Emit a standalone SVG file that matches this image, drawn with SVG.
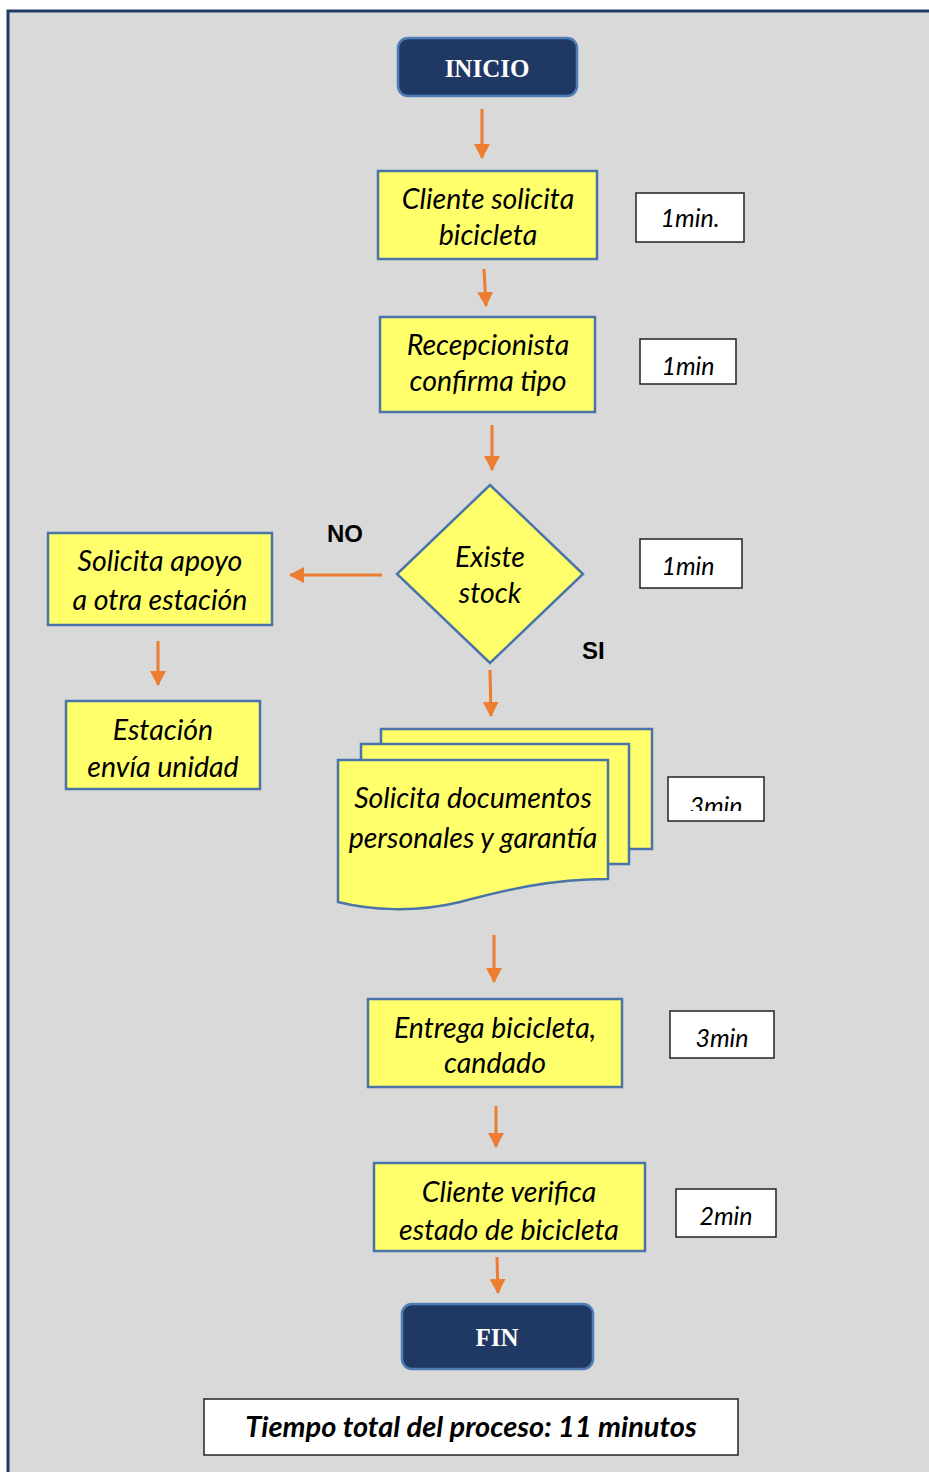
<svg xmlns="http://www.w3.org/2000/svg" width="929" height="1472" viewBox="0 0 929 1472">
<style>
.frame{fill:#d9d9d9;stroke:#1f3864;stroke-width:3}
.term{fill:#1f3864;stroke:#4f7db5;stroke-width:2.5}
.termt{font-family:"Liberation Serif",serif;font-weight:bold;font-size:25px;fill:#fff;text-anchor:middle}
.proc{fill:#ffff6b;stroke:#4a74a8;stroke-width:2.5}
.pt{font-family:Lato,"Open Sans",sans-serif;font-style:italic;font-size:28.5px;fill:#000;text-anchor:middle}
.time{fill:#fff;stroke:#222;stroke-width:1.5}
.tt{font-family:Lato,"Open Sans",sans-serif;font-style:italic;font-size:25px;fill:#000;text-anchor:middle}
.tot{font-family:Lato,"Open Sans",sans-serif;font-style:italic;font-weight:bold;font-size:29px;fill:#000;text-anchor:middle}
.lab{font-family:"Liberation Sans",Arial,sans-serif;font-weight:bold;font-size:24px;fill:#000}
.conn line{stroke:#ed7d31;stroke-width:3;marker-end:url(#ah)}
</style>
<defs>
<marker id="ah" markerUnits="userSpaceOnUse" markerWidth="18" markerHeight="16" refX="14" refY="8" orient="auto">
<path d="M0,0 L15,8 L0,16 Z" fill="#ed7d31"/>
</marker>
<clipPath id="clip3"><rect x="668" y="777" width="97" height="34"/></clipPath>
</defs>
<rect class="frame" x="8" y="11" width="940" height="1480"/>

<g id="inicio"><rect class="term" x="398" y="38" width="179" height="58" rx="10"/><text class="termt" x="487" y="77">INICIO</text></g>

<g id="cliente-solicita"><rect class="proc" x="378" y="171" width="219" height="88"/><text class="pt" x="488" y="209">Cliente solicita</text><text class="pt" x="488" y="245">bicicleta</text></g>
<g id="t1"><rect class="time" x="636" y="193" width="108" height="49"/><text class="tt" x="690" y="227">1min.</text></g>

<g id="recepcionista"><rect class="proc" x="380" y="317" width="215" height="95"/><text class="pt" x="488" y="355">Recepcionista</text><text class="pt" x="488" y="391">confirma tipo</text></g>
<g id="t2"><rect class="time" x="640" y="339" width="96" height="45"/><text class="tt" x="688" y="375">1min</text></g>

<g id="existe-stock"><polygon class="proc" points="490,485 583,574 490,663 397,574"/><text class="pt" x="490" y="567">Existe</text><text class="pt" x="490" y="603">stock</text></g>
<g id="t3"><rect class="time" x="640" y="539" width="102" height="49"/><text class="tt" x="688" y="575">1min</text></g>

<g id="solicita-apoyo"><rect class="proc" x="48" y="533" width="224" height="92"/><text class="pt" x="160" y="571">Solicita apoyo</text><text class="pt" x="160" y="610">a otra estación</text></g>
<g id="estacion-envia"><rect class="proc" x="66" y="701" width="194" height="88"/><text class="pt" x="163" y="740">Estación</text><text class="pt" x="163" y="777">envía unidad</text></g>

<g id="solicita-documentos">
<rect class="proc" x="381" y="729" width="271" height="120"/>
<rect class="proc" x="361" y="744" width="268" height="120"/>
<path class="proc" d="M338,760 H608 V879 C550,879 505,890 460,902 C415,913 370,910 338,902 Z"/>
<text class="pt" x="473" y="808">Solicita documentos</text><text class="pt" x="473" y="848">personales y garantía</text>
</g>
<g id="t4"><rect class="time" x="668" y="777" width="96" height="44"/><text class="tt" x="716" y="815" clip-path="url(#clip3)">3min</text></g>

<g id="entrega"><rect class="proc" x="368" y="999" width="254" height="88"/><text class="pt" x="495" y="1038">Entrega bicicleta,</text><text class="pt" x="495" y="1073">candado</text></g>
<g id="t5"><rect class="time" x="670" y="1011" width="104" height="47"/><text class="tt" x="722" y="1047">3min</text></g>

<g id="cliente-verifica"><rect class="proc" x="374" y="1163" width="271" height="88"/><text class="pt" x="509" y="1202">Cliente verifica</text><text class="pt" x="509" y="1240">estado de bicicleta</text></g>
<g id="t6"><rect class="time" x="676" y="1189" width="100" height="48"/><text class="tt" x="726" y="1225">2min</text></g>

<g id="fin"><rect class="term" x="402" y="1304" width="191" height="65" rx="10"/><text class="termt" x="497" y="1346">FIN</text></g>

<g id="total"><rect class="time" x="204" y="1399" width="534" height="56"/><text class="tot" x="471" y="1437">Tiempo total del proceso: 11 minutos</text></g>

<g id="labels"><text class="lab" x="327" y="542">NO</text><text class="lab" x="582" y="659">SI</text></g>

<g id="connectors" class="conn">
<line x1="482" y1="109" x2="482" y2="158"/>
<line x1="484" y1="269" x2="486" y2="306"/>
<line x1="492" y1="425" x2="492" y2="470"/>
<line x1="382" y1="575" x2="290" y2="575"/>
<line x1="158" y1="641" x2="158" y2="685"/>
<line x1="490" y1="670" x2="491" y2="716"/>
<line x1="494" y1="935" x2="494" y2="982"/>
<line x1="496" y1="1106" x2="496" y2="1147"/>
<line x1="497" y1="1257" x2="498" y2="1293"/>
</g>
</svg>
